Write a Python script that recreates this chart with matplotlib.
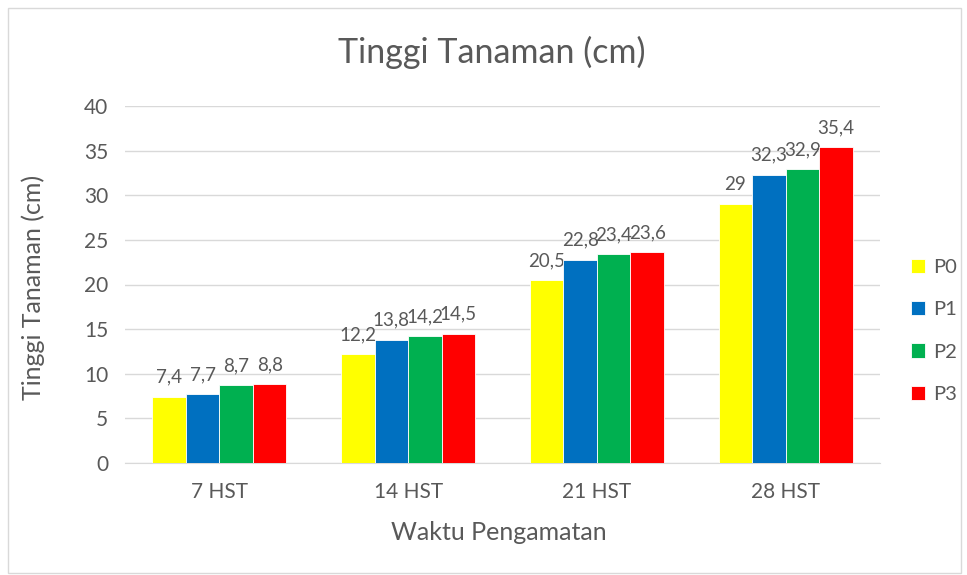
import matplotlib
matplotlib.use("Agg")
import matplotlib.pyplot as plt
import numpy as np

categories = ["7 HST", "14 HST", "21 HST", "28 HST"]
series_names = ["P0", "P1", "P2", "P3"]
P0 = [7.4, 12.2, 20.5, 29]
P1 = [7.7, 13.8, 22.8, 32.3]
P2 = [8.7, 14.2, 23.4, 32.9]
P3 = [8.8, 14.5, 23.6, 35.4]
yticks = [0, 5, 10, 15, 20, 25, 30, 35, 40]
colors = ["#FFFF00", "#0070C0", "#00B050", "#FF0000"]

plt.rcParams['font.family'] = ['Lato', 'DejaVu Sans']
txt = "#595959"

fig = plt.figure(figsize=(9.67, 5.75), dpi=100)
fig.patches.append(plt.Rectangle((8/967, 2/575), 1-14/967, 1-10/575, transform=fig.transFigure,
                                 fill=False, edgecolor="#d9d9d9", linewidth=1))
ax = fig.add_axes([125/967, 1-463/575, 755/967, 357/575])

x = np.arange(len(categories))
w = 0.1775
data = [P0, P1, P2, P3]
for i, (vals, c, name) in enumerate(zip(data, colors, series_names)):
    pos = x + (i - 1.5) * w
    bars = ax.bar(pos, vals, width=w, color=c, edgecolor="white", linewidth=0.6, label=name, zorder=3)
    for b, v in zip(bars, vals):
        lab = f"{v:g}".replace(".", ",")
        ax.annotate(lab, (b.get_x() + b.get_width()/2, v), xytext=(0, 8), textcoords="offset points",
                    ha="center", va="bottom", fontsize=13.5, color=txt)

ax.set_xlim(-0.5, 3.5)
ax.set_ylim(0, 40)
ax.set_yticks(yticks)
ax.set_xticks(x)
ax.set_xticklabels(categories)
ax.tick_params(axis="both", length=0, labelsize=15, colors=txt)
ax.tick_params(axis="y", pad=12)
ax.tick_params(axis="x", pad=14)
ax.grid(axis="y", color="#d9d9d9", linewidth=1, zorder=0)
for s in ["top", "right", "left"]:
    ax.spines[s].set_visible(False)
ax.spines["bottom"].set_color("#d9d9d9")

ax.set_ylabel("Tinggi Tanaman (cm)", fontsize=18, color=txt, va="center")
ax.yaxis.set_label_coords((33-125)/755, 0.493)
ax.set_xlabel("Waktu Pengamatan", fontsize=18, color=txt, va="center")
ax.xaxis.set_label_coords(0.495, (463-533)/357)
fig.text(492/967, 1-52/575, "Tinggi Tanaman (cm)", ha="center", va="center", fontsize=24.5, color=txt)

leg = ax.legend(loc="center left", bbox_to_anchor=(1.017, 0.37), frameon=False, fontsize=14.5,
                labelspacing=1.25, handlelength=0.7, handleheight=0.7, handletextpad=0.4)
for t in leg.get_texts():
    t.set_color(txt)

fig.savefig("out.png", dpi=100)
